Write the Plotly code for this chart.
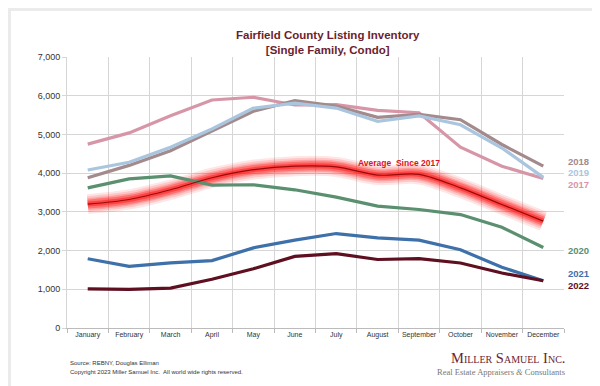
import plotly.graph_objects as go

months = ["January", "February", "March", "April", "May", "June", "July",
          "August", "September", "October", "November", "December"]

y2017 = [4750, 5040, 5480, 5890, 5960, 5760, 5770, 5620, 5560, 4670, 4180, 3860]
y2018 = [3880, 4200, 4580, 5100, 5600, 5870, 5730, 5440, 5520, 5380, 4740, 4180]
y2019 = [4080, 4280, 4670, 5140, 5680, 5810, 5680, 5340, 5480, 5250, 4650, 3890]
y2020 = [3620, 3850, 3930, 3690, 3700, 3570, 3380, 3150, 3060, 2930, 2600, 2080]
y2021 = [1790, 1590, 1680, 1740, 2070, 2270, 2440, 2330, 2270, 2020, 1570, 1220]
y2022 = [1010, 1000, 1030, 1260, 1530, 1850, 1920, 1770, 1790, 1680, 1420, 1220]
avg = [3200, 3320, 3570, 3880, 4090, 4180, 4160, 3950, 3970, 3620, 3190, 2760]

series = [
    ("2017", y2017, "#d796a8"),
    ("2018", y2018, "#a38a8c"),
    ("2019", y2019, "#a9c6de"),
    ("2020", y2020, "#5a8f6f"),
    ("2021", y2021, "#3e70aa"),
    ("2022", y2022, "#5e0f20"),
]
label_y = {"2018": 153, "2019": 164.5, "2017": 176, "2020": 242, "2021": 265, "2022": 277}

W, H = 600, 386
L, R, T, B = 59, 44, 49, 66
pw, ph = W - L - R, H - T - B

def px(x):
    return (x - L) / pw

def py(y):
    return (H - B - y) / ph

fig = go.Figure()

# glow for average
for w, a in [(20, 0.10), (16, 0.14), (12, 0.20), (9, 0.30), (5, 0.45)]:
    fig.add_trace(go.Scatter(x=months, y=avg, mode="lines", hoverinfo="skip",
                             line=dict(color=f"rgba(255,10,10,{a})", width=w, shape="spline", smoothing=0.9),
                             showlegend=False))

for name, vals, col in series:
    fig.add_trace(go.Scatter(x=months, y=vals, mode="lines", name=name,
                             line=dict(color=col, width=3.2), showlegend=False))

fig.add_trace(go.Scatter(x=months, y=avg, mode="lines", name="Average Since 2017",
                         line=dict(color="#9a0a0a", width=1.2, shape="spline", smoothing=0.9),
                         showlegend=False))

shapes = [
    dict(type="rect", xref="paper", yref="paper", layer="below",
         x0=px(3), x1=px(597), y0=py(380), y1=py(3),
         fillcolor="white", line=dict(width=0)),
]

annotations = [
    dict(text="<b>Fairfield County Listing Inventory<br>[Single Family, Condo]</b>",
         xref="paper", yref="paper", x=px(320), y=py(34), xanchor="center", yanchor="middle",
         showarrow=False, font=dict(family="Liberation Sans, Arial", size=11.5, color="#6b1e2e")),
    dict(text="<b>Average  Since 2017</b>", xref="paper", yref="paper",
         x=px(391), y=py(155), xanchor="center", yanchor="middle", showarrow=False,
         font=dict(family="Liberation Sans, Arial", size=8.5, color="#e0101a")),
    dict(text="Source: REBNY, Douglas Elliman", xref="paper", yref="paper",
         x=px(60), y=py(355), xanchor="left", yanchor="middle", showarrow=False,
         font=dict(family="Liberation Sans, Arial", size=6, color="#333333")),
    dict(text="Copyright 2023 Miller Samuel Inc.  All world wide rights reserved.", xref="paper", yref="paper",
         x=px(60), y=py(364), xanchor="left", yanchor="middle", showarrow=False,
         font=dict(family="Liberation Sans, Arial", size=6, color="#333333")),
    dict(text="Miller Samuel Inc.", xref="paper", yref="paper",
         x=px(559), y=py(350), xanchor="right", yanchor="middle", showarrow=False,
         font=dict(family="Liberation Serif, Times New Roman, serif", size=14.5, color="#6e1e30",
                   variant="small-caps")),
    dict(text="Real Estate Appraisers <i>&</i> Consultants", xref="paper", yref="paper",
         x=px(559), y=py(364), xanchor="right", yanchor="middle", showarrow=False,
         font=dict(family="Liberation Serif, Times New Roman, serif", size=8.5, color="#777777")),
]

for name, vals, col in series:
    annotations.append(dict(text=f"<b>{name}</b>", xref="paper", yref="paper",
                            x=px(558), y=py(label_y[name]), xanchor="left", yanchor="middle",
                            showarrow=False,
                            font=dict(family="Liberation Sans, Arial", size=9.5, color=col)))

fig.update_layout(
    width=W, height=H,
    margin=dict(l=L, r=R, t=T, b=B),
    paper_bgcolor="#ebebeb",
    plot_bgcolor="white",
    shapes=shapes,
    annotations=annotations,
    xaxis=dict(type="category", range=[-0.5, 11.5], tickson="boundaries",
               showgrid=True, gridcolor="#d6d6d6", gridwidth=1,
               ticks="outside", ticklen=4, tickcolor="#bbbbbb", tickangle=0,
               showline=True, linecolor="#bbbbbb", linewidth=1, mirror=False,
               tickfont=dict(family="Liberation Sans, Arial", size=7, color="#333333"),
               fixedrange=True),
    yaxis=dict(range=[0, 7000], dtick=1000, tickformat=",",
               showgrid=True, gridcolor="#d6d6d6", gridwidth=1,
               ticks="outside", ticklen=4, tickcolor="#d6d6d6",
               showline=True, linecolor="#d6d6d6", linewidth=1,
               zeroline=False,
               tickfont=dict(family="Liberation Sans, Arial", size=9, color="#333333"),
               fixedrange=True),
)

fig.write_html("out.html")
